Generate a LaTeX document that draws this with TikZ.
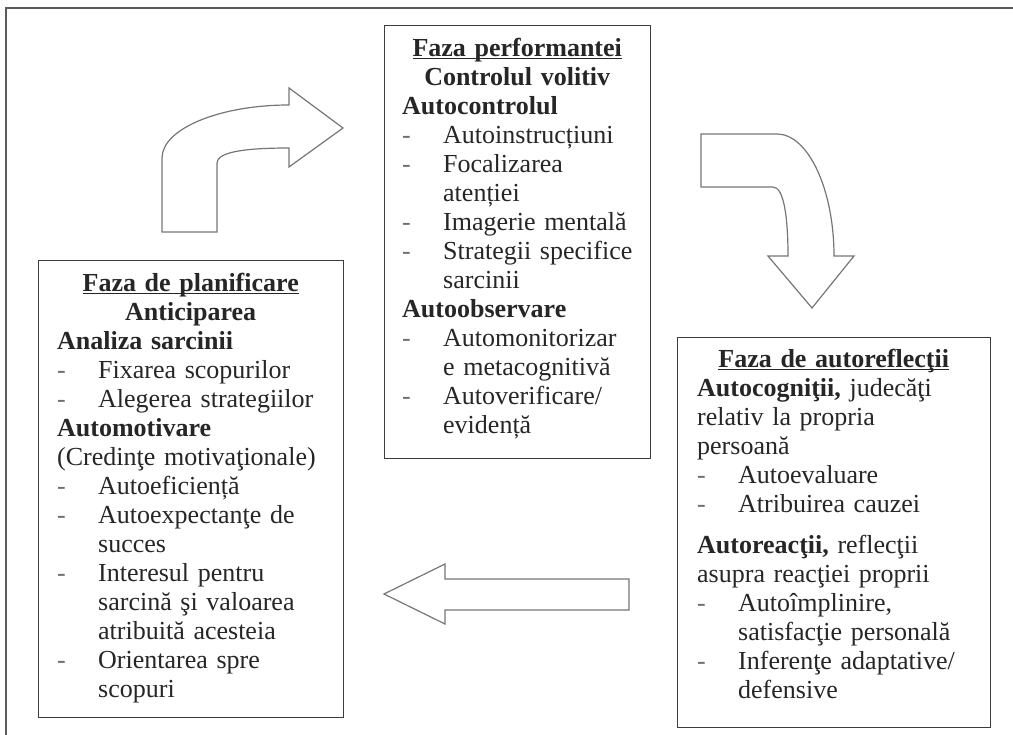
\documentclass[tikz,border=0pt]{standalone}
\usepackage{fontspec}
\setmainfont{Liberation Serif}
\definecolor{ink}{HTML}{262626}
\definecolor{boxline}{HTML}{3C3C3C}
\definecolor{arrowline}{HTML}{767676}
\definecolor{frameline}{HTML}{5A5A5A}
\definecolor{dashcol}{HTML}{6E6E6E}

% underlined phase heading, rule close to the baseline
\newcommand\phasetitle[1]{\setbox0\hbox{\textbf{#1}}\rlap{\rule[-3pt]{\wd0}{1pt}}\box0}
% centred line across the whole text block
\newcommand\midline[1]{\makebox[\hsize][c]{#1}}
% bulleted item and its continuation line (never broken)
\newcommand\itm[1]{\makebox[41pt][l]{\textcolor{dashcol}{-}}\mbox{#1}}
\newcommand\cnt[1]{\hspace*{41pt}\mbox{#1}}
\newcommand\firstline{\rule{0pt}{20pt}}

\tikzset{
  phasebox/.style={draw=boxline, line width=1.3pt, fill=white, inner sep=0pt, anchor=north west},
  phasetext/.style={inner sep=0pt, anchor=north west, align=left, text=ink,
    font=\fontsize{26pt}{29pt}\selectfont},
  blockarrow/.style={draw=arrowline, line width=1.2pt, fill=white, line join=miter}
}

\begin{document}
\begin{tikzpicture}[x=1pt, y=-1pt]
\useasboundingbox (0,0) rectangle (1013,735);

% outer frame: top and left edges only
\draw[frameline, line width=1.8pt] (6,735) -- (6,8) -- (1013,8);

% phase boxes
\node[phasebox, minimum width=305pt, minimum height=457pt] (planbox) at (38,260) {};
\node[phasebox, minimum width=266pt, minimum height=433pt] (perfbox) at (384,25) {};
\node[phasebox, minimum width=313pt, minimum height=390pt] (reflbox) at (677,337) {};

% planning phase
\node[phasetext, text width=267pt] (plantext) at (57,271) {%
\firstline\midline{\phasetitle{Faza de planificare}}\\
\midline{\textbf{Anticiparea}}\\
\mbox{\textbf{Analiza sarcinii}}\\
\itm{Fixarea scopurilor}\\
\itm{Alegerea strategiilor}\\
\mbox{\textbf{Automotivare}}\\
\mbox{(Credinţe motivaţionale)}\\
\itm{Autoeficiență}\\
\itm{Autoexpectanţe de}\\
\cnt{succes}\\
\itm{Interesul pentru}\\
\cnt{sarcină şi valoarea}\\
\cnt{atribuită acesteia}\\
\itm{Orientarea spre}\\
\cnt{scopuri}};

% performance phase
\node[phasetext, text width=230pt] (perftext) at (402,36) {%
\firstline\midline{\phasetitle{Faza performantei}}\\
\midline{\textbf{Controlul volitiv}}\\
\mbox{\textbf{Autocontrolul}}\\
\itm{Autoinstrucțiuni}\\
\itm{Focalizarea}\\
\cnt{atenției}\\
\itm{Imagerie mentală}\\
\itm{Strategii specifice}\\
\cnt{sarcinii}\\
\mbox{\textbf{Autoobservare}}\\
\itm{Automonitorizar}\\
\cnt{e metacognitivă}\\
\itm{Autoverificare/}\\
\cnt{evidență}};

% self-reflection phase
\node[phasetext, text width=273pt] (refltext) at (697,347) {%
\firstline\midline{\phasetitle{Faza de autoreflecţii}}\\
\mbox{\textbf{Autocogniţii,} judecăţi}\\
\mbox{relativ la propria}\\
\mbox{persoană}\\
\itm{Autoevaluare}\\
\itm{Atribuirea cauzei}\\[12pt]
\mbox{\textbf{Autoreacţii,} reflecţii}\\
\mbox{asupra reacţiei proprii}\\
\itm{Autoîmplinire,}\\
\cnt{satisfacţie personală}\\
\itm{Inferenţe adaptative/}\\
\cnt{defensive}};

% cycle arrows between the phases
\draw[blockarrow] (162,232) -- (162,158)
  .. controls (162,129) and (219,105) .. (289,105)
  -- (289,88) -- (343,128) -- (289,167) -- (289,148)
  .. controls (245,148) and (217,152) .. (217,163)
  -- (217,232) -- cycle;

\draw[blockarrow] (701,134) -- (777,134)
  .. controls (808,134) and (834,189) .. (834,256)
  -- (854,256) -- (812,308) -- (768,256) -- (788,256)
  .. controls (788,218) and (784,187) .. (773,187)
  -- (701,187) -- cycle;

\draw[blockarrow] (629,579) -- (445,579) -- (445,564) -- (384,594)
  -- (445,624) -- (445,610) -- (629,610) -- cycle;
\end{tikzpicture}
\end{document}
